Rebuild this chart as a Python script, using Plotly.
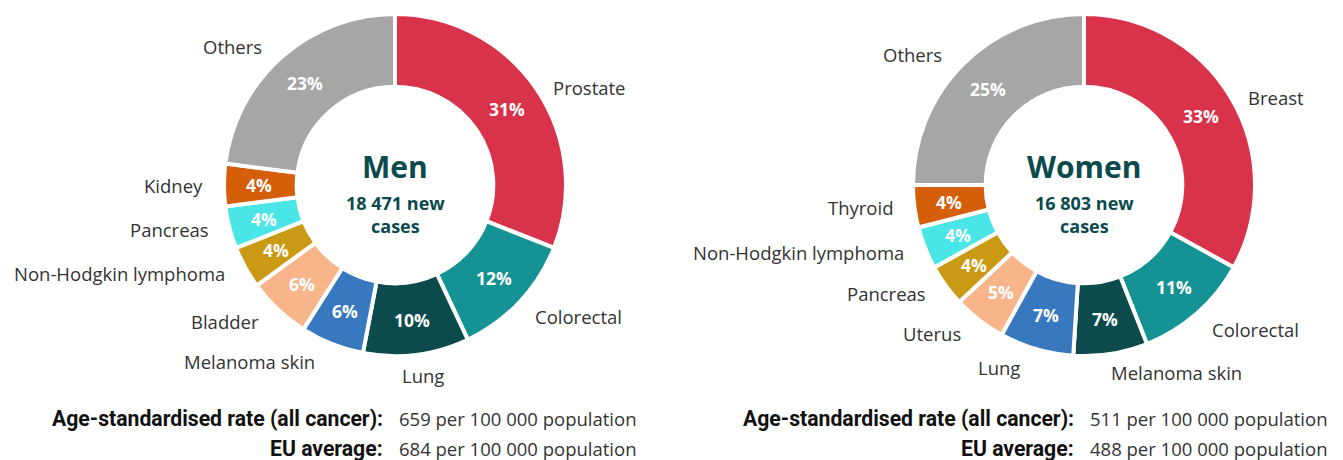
import math
import plotly.graph_objects as go

W, H = 1343, 460
OFF = 8  # default page body margin in the browser

men_labels = ["Prostate", "Colorectal", "Lung", "Melanoma skin", "Bladder",
              "Non-Hodgkin lymphoma", "Pancreas", "Kidney", "Others"]
men_values = [31, 12, 10, 6, 6, 4, 4, 4, 23]
men_colors = ["#D9324B", "#159394", "#0B4A4D", "#3878BE", "#F8B589",
              "#CA9A14", "#4AE5E6", "#D55E0B", "#A6A6A6"]

women_labels = ["Breast", "Colorectal", "Melanoma skin", "Lung", "Uterus",
                "Pancreas", "Non-Hodgkin lymphoma", "Thyroid", "Others"]
women_values = [33, 11, 7, 7, 5, 4, 4, 4, 25]
women_colors = ["#D9324B", "#159394", "#0B4A4D", "#3878BE", "#F8B589",
                "#CA9A14", "#4AE5E6", "#D55E0B", "#A6A6A6"]

men_title, men_cases = "Men", "18 471 new<br>cases"
women_title, women_cases = "Women", "16 803 new<br>cases"

men_rate = ["Age-standardised rate (all cancer):", "659 per 100 000 population"]
men_eu = ["EU average:", "684 per 100 000 population"]
women_rate = ["Age-standardised rate (all cancer):", "511 per 100 000 population"]
women_eu = ["EU average:", "488 per 100 000 population"]

DARK = "#0B4A4D"
LABEL = "#333333"
REG = "Open Sans"
BOLD = "Open Sans"

fig = go.Figure()
annotations = []


def px2paper(x, y):
    return (x - OFF) / W, 1 - (y - OFF) / H


def ann(x, y, text, xa, ya, family, size, color):
    px, py = px2paper(x, y)
    annotations.append(dict(x=px, y=py, xref="paper", yref="paper", text=text,
                            showarrow=False, xanchor=xa, yanchor=ya,
                            font=dict(family=family, size=size, color=color)))


def add_donut(cx, cy, r, hole, labels, values, colors, title, cases):
    x0, y1 = px2paper(cx - r, cy - r)
    x1, y0 = px2paper(cx + r, cy + r)
    fig.add_trace(go.Pie(
        labels=labels, values=values, sort=False, direction="clockwise",
        rotation=0, hole=hole, textinfo="none", hoverinfo="label+percent",
        marker=dict(colors=colors, line=dict(color="white", width=4)),
        domain=dict(x=[x0, x1], y=[y0, y1]), showlegend=False,
    ))
    total = sum(values)
    cum = 0
    rin = r * hole
    for lab, v in zip(labels, values):
        mid = (cum + v / 2) / total * 2 * math.pi
        cum += v
        s, c = math.sin(mid), math.cos(mid)
        rm = (r + rin) / 2 + 1
        ann(cx + rm * s, cy - rm * c, f"<b>{round(100 * v / total)}%</b>",
            "center", "middle", BOLD, 17.5, "white")
        if abs(s) < 0.14:
            xa, ya, ro, hp, vy = "center", "top", r + 6, 6, 0
        elif s > 0:
            xa, ya, ro, vy = "left", "middle", r + 13, 6
            hp = 4 if s > 0.4 else -4
        elif c > 0.3:
            xa, ya, ro, hp, vy = "right", "middle", r + 18, -6, 3
        else:
            xa, ya, ro, hp, vy = "right", "middle", r + 6, -13, 14 * c * c
        ann(cx + ro * s + hp, cy - ro * c + vy, lab, xa, ya, REG, 18.5, LABEL)
    ann(cx, cy - 19, f"<b>{title}</b>", "center", "middle", BOLD, 30, DARK)
    ann(cx, cy + 29, f"<b>{cases}</b>", "center", "middle", BOLD, 18, DARK)


def add_rates(xsplit, rate, eu):
    for (b, v), yy in ((rate, 418), (eu, 448)):
        ann(xsplit - 6, yy, f"<b>{b}</b>", "right", "middle", "Roboto", 21.2, "#111111")
        ann(xsplit + 6, yy, v, "left", "middle", REG, 18.5, LABEL)


add_donut(395, 185, 171, 0.575, men_labels, men_values, men_colors, men_title, men_cases)
add_donut(1084, 185, 171, 0.575, women_labels, women_values, women_colors, women_title, women_cases)
add_rates(391, men_rate, men_eu)
add_rates(1082, women_rate, women_eu)

fig.update_layout(width=W, height=H, margin=dict(l=0, r=0, t=0, b=0),
                  paper_bgcolor="white", plot_bgcolor="white",
                  annotations=annotations)
fig.write_html("out.html")
